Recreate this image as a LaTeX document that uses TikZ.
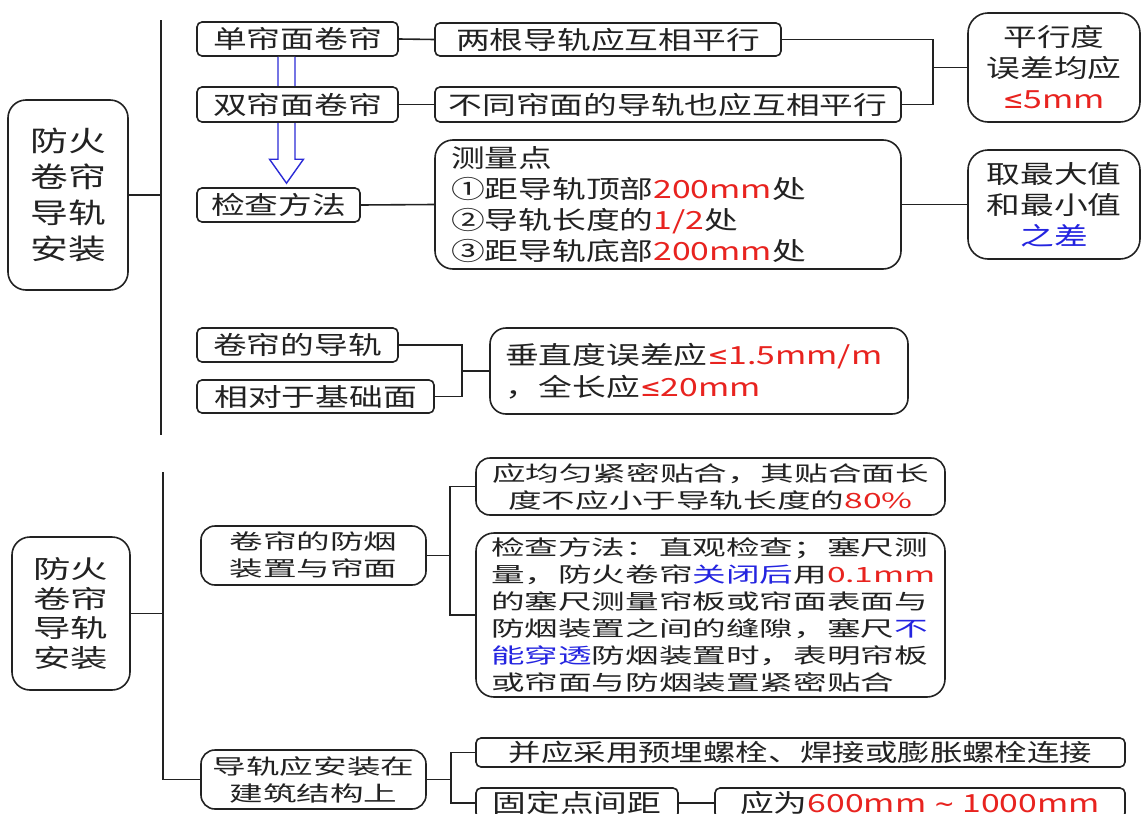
\documentclass[tikz,border=0pt]{standalone}
\usepackage{fontspec}
\usepackage{xcolor}
\usepackage{tikz}
\usetikzlibrary{calc}
\setmainfont{Noto Sans CJK SC}
\newfontfamily\cjkw{Noto Sans CJK SC}[FakeStretch=1.35]
\newfontfamily\cjkn{Noto Sans CJK SC}[FakeStretch=1.6]
\newfontfamily\cjkr{Noto Sans CJK SC}[FakeStretch=1.5]
\newfontfamily\symf{DejaVu Sans}
\definecolor{ink}{HTML}{222222}
\definecolor{hot}{HTML}{E8231F}
\definecolor{cool}{HTML}{2424E0}
\definecolor{arrowblue}{HTML}{2B2BD6}
\newcommand\redtxt[1]{\textcolor{hot}{#1}}
\newcommand\bluetxt[1]{\textcolor{cool}{#1}}
\newcommand\lesym{{\symf ≤}}
\tikzset{
  box/.style={draw=ink, fill=white, line width=1.6pt, rounded corners=5pt, inner sep=0pt, text=ink},
  bigbox/.style={box, rounded corners=18pt},
  wide/.style={font=\cjkw\fontsize{25}{31}\selectfont},
  narrow/.style={font=\cjkn\fontsize{21}{27}\selectfont},
  link/.style={draw=ink, line width=1.6pt},
  hollow/.style={draw=arrowblue, line width=1.4pt, fill=white, line join=miter}
}

\begin{document}
\begin{tikzpicture}[x=1pt, y=-1pt]
\useasboundingbox (0,0) rectangle (1144,814);

% upper part
\node[bigbox, align=center, minimum width=120pt, minimum height=190pt,
      font=\cjkw\fontsize{28}{36}\selectfont] (rootA) at (68,195) {防火\\卷帘\\导轨\\安装};
\coordinate (spA1) at (161,20);
\coordinate (spA2) at (161,435);
\draw[link] (spA1) -- (spA2);
\draw[link] (rootA.east) -- (rootA.east -| spA1);

\node[box, wide, minimum width=201pt, minimum height=34pt] (single) at (297.5,39) {单帘面卷帘};
\node[box, wide, minimum width=163pt, minimum height=34pt] (check) at (278.5,205) {检查方法};

% hollow arrow single -> check
\coordinate (ar) at ($(single.south)+(-11,0)$);
\coordinate (tip) at ($(check.north -| ar)+(0,-4)$);
\draw[hollow] ($(ar)+(-8.5,0)$) -- ($(tip)+(-8.5,-24)$) -- ($(tip)+(-17,-24)$) -- (tip)
  -- ($(tip)+(17,-24)$) -- ($(tip)+(8.5,-24)$) -- ($(ar)+(8.5,0)$);

\node[box, wide, minimum width=201pt, minimum height=35pt] (double) at (297.5,104.5) {双帘面卷帘};

\node[box, wide, minimum width=346pt, minimum height=33pt] (par) at (608,39.5) {两根导轨应互相平行};
\node[box, wide, minimum width=466pt, minimum height=35pt] (parB) at (668,104.5) {不同帘面的导轨也应互相平行};
\node[bigbox, wide, align=center, rounded corners=20pt, minimum width=172pt, minimum height=109pt]
  (tol) at (1054,67.5) {平行度\\误差均应\\\redtxt{\lesym5mm}};
\draw[link] (single.east) -- (par.west);
\draw[link] (double.east) -- (parB.west);
\coordinate (brA) at (933,67.5);
\draw[link] (par.east) -| (brA) |- (parB.east);
\draw[link] (brA) -- (tol.west);

\node[bigbox, wide, align=left, text width=434pt, inner xsep=16pt, minimum height=129pt]
  (pts) at (668,204.5) {测量点\\①距导轨顶部\redtxt{200mm}处\\②导轨长度的\redtxt{1/2}处\\③距导轨底部\redtxt{200mm}处};
\node[bigbox, wide, align=center, rounded corners=20pt, minimum width=172pt, minimum height=109pt]
  (diff) at (1054,204.5) {取最大值\\和最小值\\\bluetxt{之差}};
\draw[link] (check.east) -- (pts.west);
\draw[link] (pts.east) -- (diff.west);

\node[box, wide, minimum width=201pt, minimum height=34pt] (rail) at (297.5,345) {卷帘的导轨};
\node[box, wide, minimum width=237pt, minimum height=33pt] (base) at (315.5,396.5) {相对于基础面};
\node[bigbox, align=left, rounded corners=16pt, text width=388pt, inner xsep=15pt, minimum height=86pt,
      font=\cjkw\fontsize{25}{32}\selectfont]
  (vert) at (699,371) {垂直度误差应\redtxt{\lesym1.5mm/m}\\，全长应\redtxt{\lesym20mm}};
\coordinate (brB) at (462,371);
\draw[link] (rail.east) -| (brB) |- (base.east);
\draw[link] (brB) -- (vert.west);

% lower part
\node[bigbox, align=center, minimum width=118pt, minimum height=153pt,
      font=\cjkr\fontsize{25}{29.5}\selectfont] (rootB) at (71,613.5) {防火\\卷帘\\导轨\\安装};
\coordinate (spB1) at (163,472);
\node[box, narrow, align=center, rounded corners=14pt, minimum width=225pt, minimum height=59pt]
  (seal) at (313.5,555.5) {卷帘的防烟\\装置与帘面};
\node[box, narrow, align=center, rounded corners=14pt, minimum width=225pt, minimum height=59pt]
  (mount) at (313.5,779.5) {导轨应安装在\\建筑结构上};
\draw[link] (spB1) |- (mount.west);
\draw[link] (rootB.east) -- (rootB.east -| spB1);

\node[box, narrow, align=center, rounded corners=14pt, minimum width=469pt, minimum height=57pt]
  (fit) at (710.5,486.5) {应均匀紧密贴合，其贴合面长\\度不应小于导轨长度的\redtxt{80\%}};
\node[bigbox, narrow, align=left, text width=439pt, inner xsep=15pt, minimum height=164pt]
  (meth) at (710.5,615) {检查方法：直观检查；塞尺测\\量，防火卷帘\bluetxt{关闭后}用\redtxt{0.1mm}\\的塞尺测量帘板或帘面表面与\\防烟装置之间的缝隙，塞尺\bluetxt{不}\\\bluetxt{能穿透}防烟装置时，表明帘板\\或帘面与防烟装置紧密贴合};
\coordinate (brC) at (450,555.5);
\draw[link] (seal.east) -- (brC);
\draw[link] (fit.west) -| (brC) |- (meth.west);

\node[box, minimum width=649pt, minimum height=29pt, font=\cjkw\fontsize{24}{30}\selectfont]
  (bolt) at (800.5,752.5) {并应采用预埋螺栓、焊接或膨胀螺栓连接};
\node[box, wide, minimum width=202pt, minimum height=30pt] (fix) at (577,803) {固定点间距};
\node[box, wide, minimum width=410pt, minimum height=30pt] (span) at (920,803) {应为\redtxt{600mm {\symf\textasciitilde} 1000mm}};
\coordinate (brD) at (451,779.5);
\draw[link] (mount.east) -- (brD);
\draw[link] (bolt.west) -| (brD) |- (fix.west);
\draw[link] (fix.east) -- (span.west);
\end{tikzpicture}
\end{document}
